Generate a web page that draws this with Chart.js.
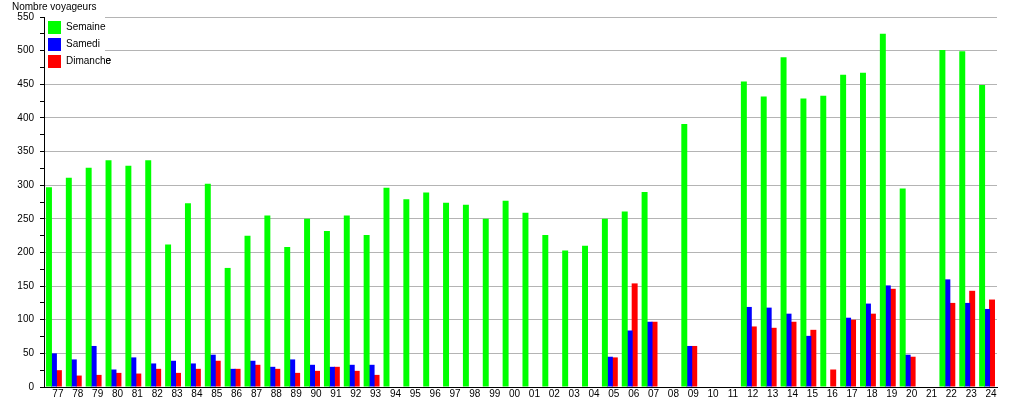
<!DOCTYPE html>
<html>
<head>
<meta charset="utf-8">
<script src="https://cdn.jsdelivr.net/npm/chart.js@4/dist/chart.umd.min.js"></script>
<style>
  html, body { margin: 0; padding: 0; background: #fff; }
  canvas { display: block; }
</style>
</head>
<body>
<canvas id="c" width="1015" height="400"></canvas>
<script>
const years = ['77','78','79','80','81','82','83','84','85','86','87','88','89','90','91','92','93','94','95','96','97','98','99',
  '00','01','02','03','04','05','06','07','08','09','10','11','12','13','14','15','16','17','18','19','20','21','22','23','24'];

const semaine = [297,311,326,337,329,337,212,273,302,177,225,255,208,250,232,255,226,296,279,289,274,271,250,
  277,259,226,203,210,250,261,290,0,391,0,0,454,432,490,429,433,464,467,525,295,0,501,499,449];

const samedi = [50,41,61,26,44,35,39,35,48,27,39,30,41,33,30,33,33,0,0,0,0,0,0,
  0,0,0,0,0,45,84,97,0,61,0,0,119,118,109,76,0,103,124,151,48,0,160,125,116];

const dimanche = [25,17,18,21,20,27,21,27,39,27,33,27,21,24,30,24,18,0,0,0,0,0,0,
  0,0,0,0,0,44,154,97,0,61,0,0,90,88,97,85,26,100,109,146,45,0,125,143,130];

const seriesNames = ['Semaine', 'Samedi', 'Dimanche'];
const seriesColors = ['#00ff00', '#0000ff', '#ff0000'];

const FONT = "'Liberation Sans', Arial, sans-serif";
Chart.defaults.font.family = FONT;
Chart.defaults.font.size = 10;
Chart.defaults.color = '#000';

// Places the legend inside the plot area (top-left) on a white background.
const legendInPlot = {
  id: 'legendInPlot',
  afterLayout(chart) {
    const lg = chart.legend;
    if (!lg) return;
    const ca = chart.chartArea;
    const h = lg.height;
    lg.top = ca.top;
    lg.bottom = ca.top + h;
    lg.left = ca.left;
    lg.right = ca.right;
  },
  afterDraw(chart) {
    const lg = chart.legend;
    if (!lg) return;
    const ca = chart.chartArea;
    const c = chart.ctx;
    const pad = lg.options.labels.padding;
    const n = chart.data.datasets.length;
    const rowH = lg.options.labels.boxHeight + pad;
    c.save();
    c.fillStyle = '#ffffff';
    c.fillRect(ca.left + 1, ca.top - 1, 60, n * rowH + pad * 2 + 2);
    c.restore();
    c.save();
    if (typeof lg._draw === 'function') { lg._draw(); } else { lg.draw(); }
    c.restore();
  }
};

new Chart(document.getElementById('c'), {
  type: 'bar',
  data: {
    labels: years,
    datasets: [
      { label: seriesNames[0], data: semaine, backgroundColor: seriesColors[0] },
      { label: seriesNames[1], data: samedi, backgroundColor: seriesColors[1] },
      { label: seriesNames[2], data: dimanche, backgroundColor: seriesColors[2] }
    ]
  },
  options: {
    responsive: false,
    animation: false,
    events: [],
    datasets: { bar: { categoryPercentage: 0.75, barPercentage: 1.2, borderWidth: 0 } },
    layout: { padding: { left: 12, right: 18, top: 0, bottom: 0 } },
    plugins: {
      title: {
        display: true, text: 'Nombre voyageurs', align: 'start', color: '#000',
        font: { size: 10, weight: 'normal' }, padding: { top: 1, bottom: 4 }
      },
      legend: {
        position: 'chartArea', align: 'start',
        labels: { boxWidth: 13, boxHeight: 13, padding: 4, color: '#000', font: { size: 10 } }
      },
      tooltip: { enabled: false }
    },
    scales: {
      x: {
        afterFit: (s) => { s.height = 13; },
        grid: { display: false, drawTicks: false },
        border: { color: '#000', width: 1 },
        ticks: { color: '#000', font: { size: 10 }, padding: 1, labelOffset: 4, autoSkip: false, maxRotation: 0, minRotation: 0 }
      },
      y: {
        min: 0, max: 550,
        afterFit: (s) => { s.width = 32; },
        ticks: {
          stepSize: 25, autoSkip: false, color: '#000', font: { size: 10 }, padding: 6,
          callback: (v) => (v % 50 === 0 ? String(v) : '')
        },
        grid: {
          color: (c) => (c.tick && c.tick.value % 50 === 0 ? '#b4b4b4' : 'rgba(0,0,0,0)'),
          tickColor: '#000', tickLength: 4
        },
        border: { color: '#000', width: 1 }
      }
    }
  },
  plugins: [legendInPlot]
});
</script>
</body>
</html>
